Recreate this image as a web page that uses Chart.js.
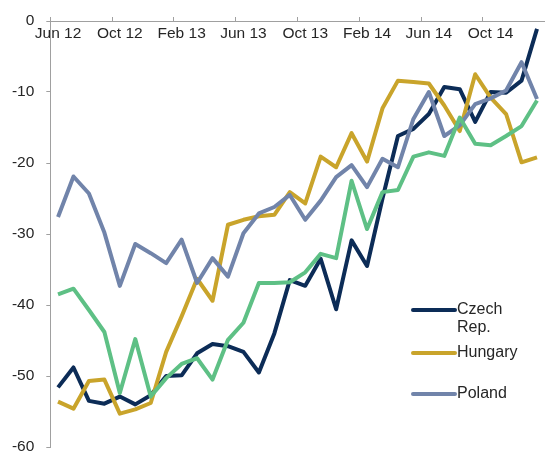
<!DOCTYPE html>
<html>
<head>
<meta charset="utf-8">
<script src="https://cdn.jsdelivr.net/npm/chart.js@4/dist/chart.umd.min.js"></script>
<style>
html, body { margin: 0; padding: 0; background: #fff; }
#wrap { width: 545px; height: 455px; }
</style>
</head>
<body>
<div id="wrap"><canvas id="myChart" width="545" height="455"></canvas></div>
<script>
var months = ["Jun 12", "Jul 12", "Aug 12", "Sep 12", "Oct 12", "Nov 12", "Dec 12", "Jan 13",
	"Feb 13", "Mar 13", "Apr 13", "May 13", "Jun 13", "Jul 13", "Aug 13", "Sep 13",
	"Oct 13", "Nov 13", "Dec 13", "Jan 14", "Feb 14", "Mar 14", "Apr 14", "May 14",
	"Jun 14", "Jul 14", "Aug 14", "Sep 14", "Oct 14", "Nov 14", "Dec 14", "Jan 15"];

var czech = [-51.6, -48.8, -53.5, -53.9, -52.9, -54.0, -52.7, -50.0, -49.9, -46.8, -45.5, -45.8, -46.6, -49.5, -44.0, -36.5,
	-37.3, -33.5, -40.6, -30.9, -34.5, -25.0, -16.2, -15.2, -13.1, -9.3, -9.6, -14.2, -10.0, -10.1, -8.4, -1.1];
var hungary = [-53.6, -54.6, -50.7, -50.5, -55.3, -54.7, -53.8, -46.6, -41.6, -36.3, -39.4, -28.7, -28.0, -27.5, -27.3, -24.1,
	-25.7, -19.1, -20.6, -15.8, -19.8, -12.3, -8.4, -8.6, -8.8, -11.9, -15.5, -7.5, -10.8, -13.1, -19.9, -19.2];
var poland = [-27.6, -21.9, -24.3, -29.8, -37.3, -31.4, -32.7, -34.1, -30.8, -36.9, -33.4, -36.0, -29.9, -27.1, -26.2, -24.5,
	-28.0, -25.3, -22.0, -20.3, -23.4, -19.4, -20.6, -13.8, -10.0, -16.2, -14.7, -11.7, -10.9, -9.8, -5.8, -11.0];
var other = [-38.5, -37.7, -40.7, -43.8, -52.4, -44.8, -52.9, -50.3, -48.3, -47.5, -50.5, -44.9, -42.5, -36.9, -36.9, -36.8,
	-35.4, -32.8, -33.4, -22.5, -29.3, -24.1, -23.8, -19.1, -18.5, -19.0, -13.6, -17.3, -17.5, -16.2, -14.8, -11.2];

var yTicks = [0, -10, -20, -30, -40, -50, -60];

var axisGrey = "#a0a0a0";
var textCol = "#262626";
var font = "'Liberation Sans', Arial, sans-serif";

function line(label, data, color, order, inLegend){
	return {
		label: label,
		data: data,
		borderColor: color,
		backgroundColor: color,
		borderWidth: 4,
		pointRadius: 0,
		tension: 0,
		fill: false,
		borderJoinStyle: "round",
		order: order,
		inLegend: inLegend
	};
}

// legend drawn by hand inside the plot, the 4th series has no entry
var boxLegend = {
	id: "boxLegend",
	afterDraw: function(chart){
		var ctx = chart.ctx;
		var rows = [310, 353, 394];
		var k = 0;
		ctx.save();
		ctx.font = "16px " + font;
		ctx.fillStyle = textCol;
		ctx.textBaseline = "middle";
		ctx.textAlign = "left";
		chart.data.datasets.forEach(function(ds){
			if(!ds.inLegend) return;
			var y = rows[k++];
			ctx.strokeStyle = ds.borderColor;
			ctx.lineWidth = 4;
			ctx.lineCap = "round";
			ctx.beginPath();
			ctx.moveTo(413, y);
			ctx.lineTo(455, y);
			ctx.stroke();
			var parts = [].concat(ds.label);
			parts.forEach(function(p, j){
				ctx.fillText(p, 457, y + j * 18);
			});
		});
		ctx.restore();
	}
};

var ctx = document.getElementById("myChart").getContext("2d");
var myLineChart = new Chart(ctx, {
	type: "line",
	data: {
		labels: months,
		datasets: [
			line(["Czech", "Rep."], czech, "#0c2c57", 4, true),
			line("Hungary", hungary, "#c9a42b", 3, true),
			line("Poland", poland, "#7184aa", 2, true),
			line("Other", other, "#5ec085", 1, false)
		]
	},
	options: {
		responsive: false,
		animation: false,
		layout: { padding: { top: 21, left: 0, right: -2, bottom: 8 } },
		plugins: {
			legend: { display: false },
			tooltip: { enabled: false }
		},
		scales: {
			x: {
				type: "category",
				position: { y: 0 },
				offset: true,
				afterFit: function(scale){ scale.height = 0; },
				border: { display: true, color: axisGrey, width: 1 },
				grid: {
					offset: true,
					drawOnChartArea: false,
					drawTicks: true,
					tickLength: -5,
					tickColor: function(c){ return c.index % 4 === 0 ? axisGrey : "rgba(0,0,0,0)"; }
				},
				ticks: {
					autoSkip: false,
					maxRotation: 0,
					minRotation: 0,
					padding: 8,
					color: textCol,
					font: { family: font, size: 15.5 },
					callback: function(v, i){ return i % 4 === 0 ? months[i] : ""; }
				}
			},
			y: {
				position: "left",
				min: yTicks[yTicks.length - 1],
				max: yTicks[0],
				afterFit: function(scale){
					scale.width = 50.3;
					scale.paddingTop = 0;
					scale.paddingBottom = 0;
				},
				border: { display: true, color: axisGrey, width: 1 },
				grid: {
					drawOnChartArea: false,
					drawTicks: true,
					tickLength: 4,
					tickColor: axisGrey
				},
				ticks: {
					stepSize: 10,
					padding: 12,
					color: textCol,
					font: { family: font, size: 15.5 }
				}
			}
		}
	},
	plugins: [boxLegend]
});
</script>
</body>
</html>
